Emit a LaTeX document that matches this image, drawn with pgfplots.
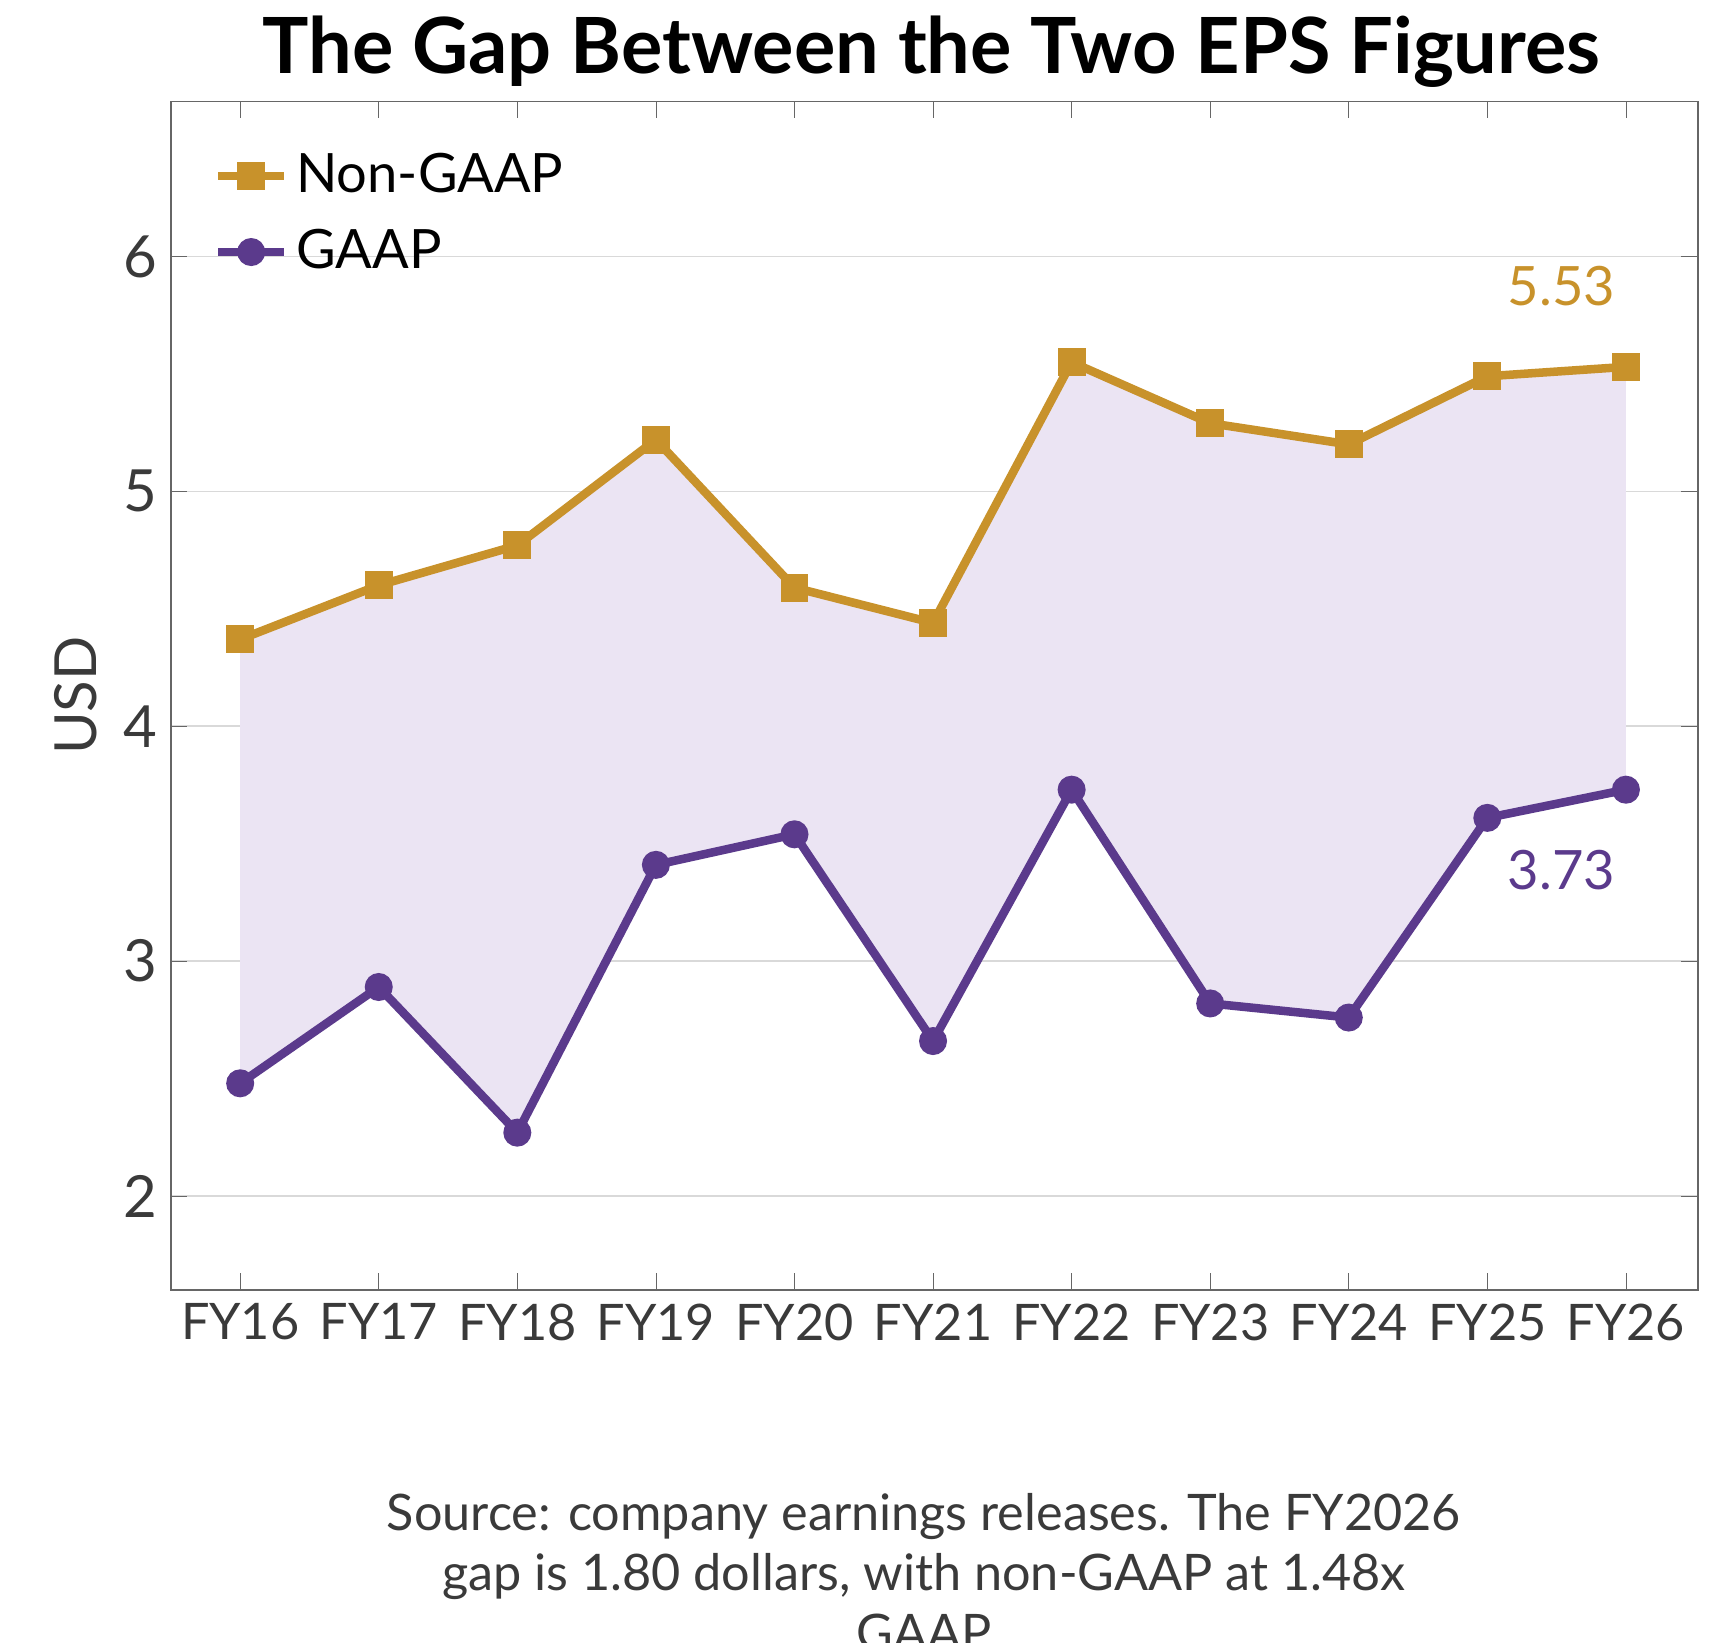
\documentclass[border=0pt]{standalone}
\usepackage{fontspec}
\setmainfont{Lato}
\usepackage{pgfplots}
\pgfplotsset{compat=1.18}
\definecolor{gold}{HTML}{C8922B}
\definecolor{purp}{HTML}{5B3A8C}
\definecolor{lav}{HTML}{EBE4F3}
\definecolor{txt}{HTML}{3A3A3A}
\begin{document}
\begin{tikzpicture}
\path[use as bounding box] (-1.55,-13.98) rectangle (14.05,0.92);
\begin{axis}[
  at={(0,0)}, anchor=north west,
  scale only axis, width=13.85cm, height=10.78cm,
  xmin=-0.5, xmax=10.52, ymin=1.6, ymax=6.66,
  xtick={0,...,10},
  xticklabels={FY16,FY17,FY18,FY19,FY20,FY21,FY22,FY23,FY24,FY25,FY26},
  ytick={2,3,4,5,6},
  ymajorgrids, grid style={gray!30},
  axis line style={gray!80!black},
  tick style={gray!80!black},
  x tick label style={font=\fontsize{13}{15}\selectfont, text=txt},
  y tick label style={font=\fontsize{15}{17}\selectfont, text=txt},
  /pgf/number format/assume math mode=true,
  ylabel={USD}, ylabel style={font=\fontsize{15}{17}\selectfont, text=txt},
  legend style={draw=none, fill=none, at={(0.02,0.97)}, anchor=north west, font=\fontsize{14}{16}\selectfont, row sep=4pt},
  legend cell align=left,
]
\addplot[fill=lav, draw=none, forget plot] coordinates {
(0,4.37)(1,4.60)(2,4.77)(3,5.22)(4,4.59)(5,4.44)(6,5.55)(7,5.29)(8,5.20)(9,5.49)(10,5.53)
(10,3.73)(9,3.61)(8,2.76)(7,2.82)(6,3.73)(5,2.66)(4,3.54)(3,3.41)(2,2.27)(1,2.89)(0,2.48)} -- cycle;
\addplot[gold, line width=2.2pt, mark=square*, mark size=2.5pt] coordinates {
(0,4.37)(1,4.60)(2,4.77)(3,5.22)(4,4.59)(5,4.44)(6,5.55)(7,5.29)(8,5.20)(9,5.49)(10,5.53)};
\addlegendentry{Non-GAAP}
\addplot[purp, line width=2.2pt, mark=*, mark size=2.5pt] coordinates {
(0,2.48)(1,2.89)(2,2.27)(3,3.41)(4,3.54)(5,2.66)(6,3.73)(7,2.82)(8,2.76)(9,3.61)(10,3.73)};
\addlegendentry{GAAP}
\node[gold, font=\fontsize{14}{16}\selectfont, anchor=south east] at (axis cs:10.02,5.73) {5.53};
\node[purp, font=\fontsize{14}{16}\selectfont, anchor=north east] at (axis cs:10.02,3.53) {3.73};
\end{axis}
\node[font=\bfseries\fontsize{20}{24}\selectfont, anchor=base] at (6.9,0.25) {The Gap Between the Two EPS Figures};
\node[font=\fontsize{13}{15.5}\selectfont, text=txt, align=center, anchor=north] at (6.83,-12.5) {Source: company earnings releases. The FY2026\\gap is 1.80 dollars, with non-GAAP at 1.48x\\GAAP};
\end{tikzpicture}
\end{document}
